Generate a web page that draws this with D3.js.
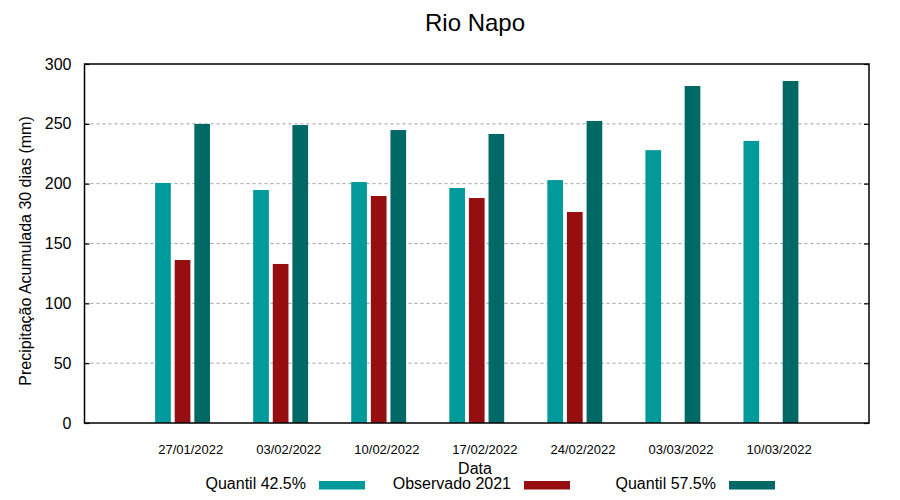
<!DOCTYPE html>
<html>
<head>
<meta charset="utf-8">
<script src="https://cdn.jsdelivr.net/npm/d3@7"></script>
<style>
  body { margin: 0; background: #fff; }
  svg { display: block; font-family: "Liberation Sans", Arial, sans-serif; }
</style>
</head>
<body>
<svg id="chart" width="900" height="500"></svg>
<script>
const categories = ["27/01/2022", "03/02/2022", "10/02/2022", "17/02/2022", "24/02/2022", "03/03/2022", "10/03/2022"];
const seriesNames = ["Quantil 42.5%", "Observado 2021", "Quantil 57.5%"];
const quantil425 = [200.6, 194.7, 201.4, 196.4, 203.0, 228.0, 235.7];
const observado2021 = [136.2, 132.9, 189.7, 188.0, 176.3, null, null];
const quantil575 = [249.9, 249.0, 244.8, 241.5, 252.4, 281.6, 285.8];
const yTicks = [0, 50, 100, 150, 200, 250, 300];
const colors = ["#009a9a", "#960e10", "#006966"];

const series = [quantil425, observado2021, quantil575];

const svg = d3.select("#chart");
const margin = { left: 84.5, right: 869, top: 64, bottom: 423 };

// x in "slot" units: each group = 3 bars + 2 gap slots
const x = d3.scaleLinear().domain([0, 40]).range([margin.left, margin.right]);
const y = d3.scaleLinear().domain([0, 300]).range([margin.bottom, margin.top]);
const barW = x(0.8) - x(0);
const slotCenter = (gi, si) => 4 + gi * 5 + si;

// grid lines
svg.append("g")
  .selectAll("line")
  .data(yTicks.filter(d => d > 0 && d < 300))
  .join("line")
  .attr("x1", margin.left).attr("x2", margin.right)
  .attr("y1", d => y(d)).attr("y2", d => y(d))
  .attr("stroke", "#a0a0a0").attr("stroke-width", 1)
  .attr("stroke-dasharray", "3,3");

// bars
series.forEach((vals, si) => {
  svg.append("g")
    .selectAll("rect")
    .data(vals.map((v, gi) => ({ v, gi })).filter(d => d.v != null))
    .join("rect")
    .attr("x", d => x(slotCenter(d.gi, si)) - barW / 2)
    .attr("width", barW)
    .attr("y", d => y(d.v))
    .attr("height", d => y(0) - y(d.v))
    .attr("fill", colors[si]);
});

// frame
svg.append("rect")
  .attr("x", margin.left).attr("y", margin.top)
  .attr("width", margin.right - margin.left)
  .attr("height", margin.bottom - margin.top)
  .attr("fill", "none").attr("stroke", "#000").attr("stroke-width", 1.5);

// left axis (inward ticks)
const yAxisL = d3.axisLeft(y).tickValues(yTicks).tickSize(-5).tickPadding(13);
const gL = svg.append("g").attr("transform", `translate(${margin.left},0)`).call(yAxisL);
gL.select(".domain").remove();
gL.selectAll("line").attr("stroke", "#000").attr("stroke-width", 1.2);
gL.selectAll("text").attr("font-size", 16).attr("fill", "#000")
  .attr("font-family", "Liberation Sans, Arial, sans-serif");

// right mirrored ticks
const yAxisR = d3.axisRight(y).tickValues(yTicks).tickSize(-5).tickFormat("");
const gR = svg.append("g").attr("transform", `translate(${margin.right},0)`).call(yAxisR);
gR.select(".domain").remove();
gR.selectAll("line").attr("stroke", "#000").attr("stroke-width", 1.2);

// x axis labels
const xTickScale = d3.scalePoint().domain(categories)
  .range([x(slotCenter(0, 1) + 0.39), x(slotCenter(6, 1) + 0.39)]);
const xAxis = d3.axisBottom(xTickScale).tickSize(0).tickPadding(22);
const gX = svg.append("g").attr("transform", `translate(0,${margin.bottom})`).call(xAxis);
gX.select(".domain").remove();
gX.selectAll("text").attr("font-size", 13).attr("fill", "#000")
  .attr("font-family", "Liberation Sans, Arial, sans-serif");

// title
svg.append("text").attr("x", 475).attr("y", 31).attr("text-anchor", "middle")
  .attr("font-size", 24).attr("fill", "#000").text("Rio Napo");

// x title
svg.append("text").attr("x", 475).attr("y", 473.5).attr("text-anchor", "middle")
  .attr("font-size", 16).attr("fill", "#000").text("Data");

// y title
svg.append("text")
  .attr("transform", "translate(31,251) rotate(-90)")
  .attr("text-anchor", "middle").attr("font-size", 16).attr("fill", "#000")
  .text("Precipitação Acumulada 30 dias (mm)");

// legend
const legX = d3.scaleLinear().domain([0, 2]).range([319, 729]);
const leg = svg.append("g").selectAll("g").data(seriesNames).join("g")
  .attr("transform", (d, i) => `translate(${legX(i)},0)`);
leg.append("rect").attr("x", 0).attr("y", 481).attr("width", 46).attr("height", 8.5)
  .attr("fill", (d, i) => colors[i]);
leg.append("text").attr("x", -13).attr("y", 488.8).attr("text-anchor", "end")
  .attr("font-size", 16).attr("fill", "#000").text(d => d);
</script>
</body>
</html>
